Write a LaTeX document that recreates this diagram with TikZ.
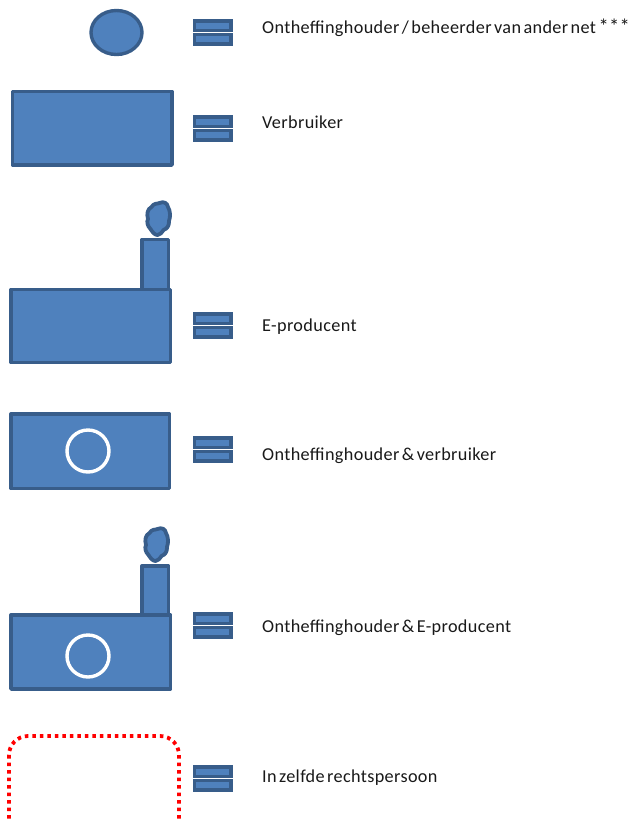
\documentclass[tikz,border=0pt]{standalone}
\usepackage{fontspec}
\setmainfont[WordSpace=0.55,LetterSpace=2.0]{Carlito}
\definecolor{fillb}{HTML}{4F81BD}
\definecolor{lineb}{HTML}{385D8A}
\tikzset{
 shapeb/.style={draw=lineb,fill=fillb,line width=3.4pt,line join=round},
 blob/.style={draw=lineb,fill=fillb,line width=3.8pt,line join=round},
 eqbar/.style={draw=lineb,fill=fillb,line width=3.6pt},
 ring/.style={draw=white,line width=3.4pt},
 lbl/.style={anchor=base west,inner sep=0pt,font=\fontsize{18.2}{20}\selectfont,text=black!90},
}
\newcommand{\eqsign}[1]{%
 \draw[eqbar] (194.5,#1+2) rectangle (231,#1+11.5);
 \draw[eqbar] (194.5,#1+15.5) rectangle (231,#1+25);
}
\newcommand{\smoke}[2]{%
 \begin{scope}[shift={(#1,#2)}]
 \draw[blob] (0,0) .. controls (-3,0) and (-5,-3) .. (-7,-6)
  .. controls (-10,-9) and (-11,-13) .. (-9.5,-16)
  .. controls (-11,-21) and (-10,-26) .. (-6,-28)
  .. controls (-4,-32) and (0,-31) .. (2,-32)
  .. controls (6,-34) and (10,-32) .. (10.5,-28)
  .. controls (13,-24) and (13,-18) .. (11.5,-14)
  .. controls (12,-9) and (9,-6) .. (6,-5)
  .. controls (4,-2) and (2,0) .. (0,0) -- cycle;
 \end{scope}
}
\begin{document}
\begin{tikzpicture}[x=1pt,y=-1pt]
\useasboundingbox (0,0) rectangle (629,820);
\clip (0,0) rectangle (629,820);
% row 1
\draw[shapeb] (116.5,32.5) ellipse [x radius=25.5,y radius=22];
\eqsign{19}
\node[lbl] (t1) at (262,33) {Ontheffinghouder / beheerder van ander net {\fontsize{20.5}{20}\selectfont ***}};
% row 2
\draw[shapeb] (12.5,91.5) rectangle (172,165);
\eqsign{115}
\node[lbl] (t2) at (262,128) {Verbruiker};
% row 3
\smoke{157.5}{235}
\draw[shapeb] (142,239.5) rectangle (168.5,290);
\draw[shapeb] (11,289.5) rectangle (170.5,362.5);
\eqsign{312}
\node[lbl] (t3) at (262,331) {E-producent};
% row 4
\draw[shapeb] (11,414) rectangle (169.5,488.5);
\draw[ring] (88,451) circle (21);
\eqsign{436}
\node[lbl] (t4) at (262,460) {Ontheffinghouder \& verbruiker};
% row 5
\smoke{155.5}{561}
\draw[shapeb] (142,566) rectangle (168.5,615);
\draw[shapeb] (11,615) rectangle (170.5,689);
\draw[ring] (88,656) circle (21);
\eqsign{612}
\node[lbl] (t5) at (262,632) {Ontheffinghouder \& E-producent};
% row 6
\draw[draw=red,line width=3.8pt,dash pattern=on 3.6pt off 3.9pt,rounded corners=19pt] (9,736) rectangle (179,860);
\eqsign{765}
\node[lbl] (t6) at (262,782) {In zelfde rechtspersoon};
\end{tikzpicture}
\end{document}
